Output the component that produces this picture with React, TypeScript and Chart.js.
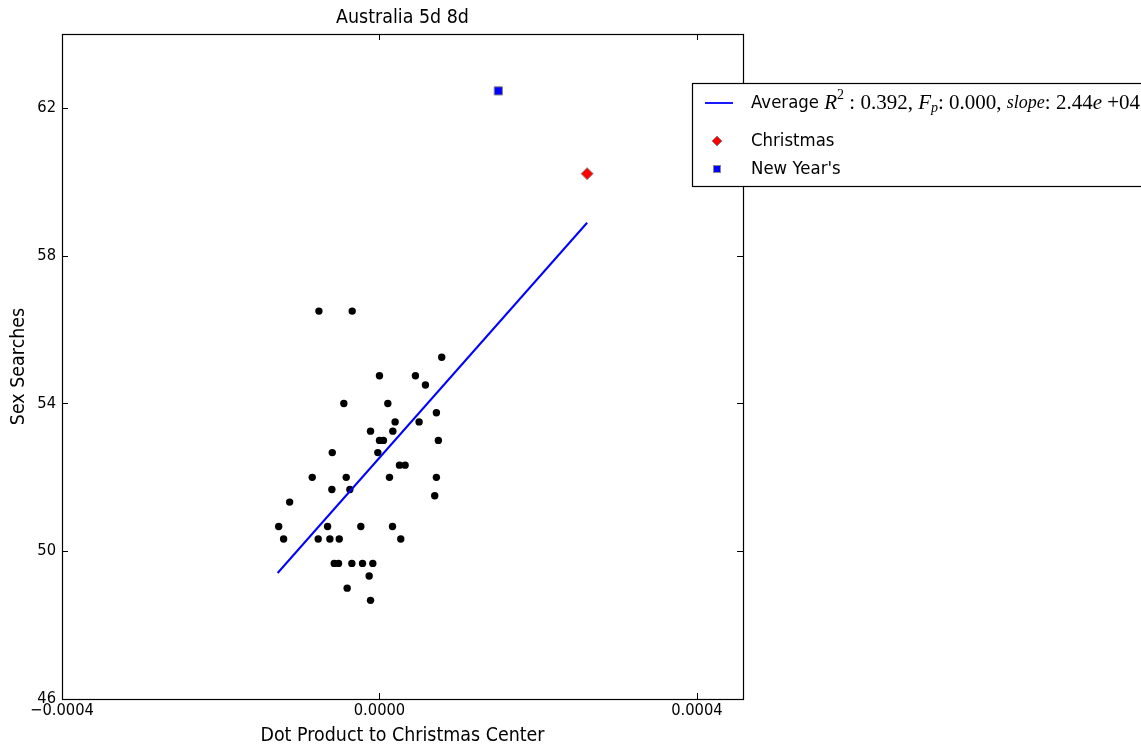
import React, { useEffect, useRef } from "react";
import { Chart, registerables } from "chart.js";

Chart.register(...registerables);

const titleText = "Australia 5d 8d";
const xLabel = "Dot Product to Christmas Center";
const yLabel = "Sex Searches";
const xTicks = [-0.0004, 0, 0.0004];
const yTicks = [46, 50, 54, 58, 62];
const xRange = [-0.0004, 0.000458];
const yRange = [46, 64];

const dotX = [
  -7.63e-5, -3.44e-5, 7.84e-5, 0, 4.53e-5, 5.79e-5, -4.49e-5, 1.05e-5, 7.17e-5, 1.97e-5,
  4.99e-5, -1.13e-5, 1.68e-5, 0, 5.0e-6, 7.42e-5, -5.95e-5, -2.1e-6, 2.52e-5, 3.23e-5,
  -8.47e-5, -4.19e-5, 1.26e-5, 7.17e-5, -6.0e-5, -3.73e-5, 6.96e-5, -1.132e-4, -1.27e-4, -6.54e-5,
  -2.35e-5, 1.64e-5, -1.208e-4, -7.72e-5, -6.25e-5, -5.07e-5, 2.68e-5, -5.7e-5, -5.16e-5, -3.48e-5,
  -2.14e-5, -8.4e-6, -1.3e-5, -4.07e-5, -1.13e-5,
];
const dotY = [
  56.5, 56.5, 55.25, 54.75, 54.75, 54.5, 54.0, 54.0, 53.75, 53.5,
  53.5, 53.25, 53.25, 53.0, 53.0, 53.0, 52.67, 52.67, 52.33, 52.33,
  52.0, 52.0, 52.0, 52.0, 51.67, 51.67, 51.5, 51.33, 50.67, 50.67,
  50.67, 50.67, 50.33, 50.33, 50.33, 50.33, 50.33, 49.67, 49.67, 49.67,
  49.67, 49.67, 49.33, 49.0, 48.67,
];
const fitX = [-0.0001283, 0.0002616];
const fitY = [49.41, 58.89];
const christmasX = [0.0002616];
const christmasY = [60.22];
const newYearX = [0.0001497];
const newYearY = [62.46];

const legendLabels = ["Average", "Christmas", "New Year's"];
const statR2 = "0.392";
const statFp = "0.000";
const statSlope = "2.44";
const statSlopeExp = "+04";

const SANS = '"DejaVu Sans", sans-serif';
const SERIF = '"Liberation Serif", "DejaVu Serif", serif';
const SX = 0.92;

function drawText(ctx: CanvasRenderingContext2D, text: string, x: number, y: number, font: string, align: CanvasTextAlign, sx = SX) {
  ctx.save();
  ctx.translate(x, y);
  ctx.scale(sx, 1);
  ctx.font = font;
  ctx.textAlign = align;
  ctx.textBaseline = "middle";
  ctx.fillStyle = "#000";
  ctx.fillText(text, 0, 0);
  ctx.restore();
}

function textW(ctx: CanvasRenderingContext2D, text: string, font: string, sx = SX) {
  ctx.save();
  ctx.font = font;
  const w = ctx.measureText(text).width * sx;
  ctx.restore();
  return w;
}

const decorPlugin = {
  id: "decor",
  afterDraw(chart: any) {
    const ctx: CanvasRenderingContext2D = chart.ctx;
    const { left, right, top, bottom } = chart.chartArea;
    const xs = chart.scales.x;
    const ys = chart.scales.y;
    ctx.save();
    // frame
    ctx.strokeStyle = "#000";
    ctx.lineWidth = 1.2;
    ctx.strokeRect(Math.round(left) + 0.5, Math.round(top) + 0.5, Math.round(right - left), Math.round(bottom - top));
    // ticks
    const tl = 6;
    ctx.lineWidth = 1;
    ctx.beginPath();
    xs.ticks.forEach((t: any) => {
      const px = Math.round(xs.getPixelForValue(t.value)) + 0.5;
      ctx.moveTo(px, bottom);
      ctx.lineTo(px, bottom - tl);
      ctx.moveTo(px, top);
      ctx.lineTo(px, top + tl);
    });
    ys.ticks.forEach((t: any) => {
      const py = Math.round(ys.getPixelForValue(t.value)) + 0.5;
      ctx.moveTo(left, py);
      ctx.lineTo(left + tl, py);
      ctx.moveTo(right, py);
      ctx.lineTo(right - tl, py);
    });
    ctx.stroke();
    // tick labels
    const tickFont = `16px ${SANS}`;
    xs.ticks.forEach((t: any) => {
      const px = xs.getPixelForValue(t.value);
      const s = t.value.toFixed(4).replace("-", "\u2212");
      drawText(ctx, s, px, bottom + 12, tickFont, "center");
    });
    ys.ticks.forEach((t: any) => {
      const py = ys.getPixelForValue(t.value);
      drawText(ctx, String(t.value), left - 6, py, tickFont, "right");
    });
    // title and axis labels
    const labFont = `19px ${SANS}`;
    drawText(ctx, titleText, (left + right) / 2, 18, labFont, "center");
    drawText(ctx, xLabel, (left + right) / 2, 736, labFont, "center");
    ctx.save();
    ctx.translate(19, (top + bottom) / 2);
    ctx.rotate(-Math.PI / 2);
    ctx.scale(SX, 1);
    ctx.font = labFont;
    ctx.textAlign = "center";
    ctx.textBaseline = "middle";
    ctx.fillStyle = "#000";
    ctx.fillText(yLabel, 0, 0);
    ctx.restore();

    // legend
    const lx = 692.5, ly = 83.5, lw = 520, lh = 103;
    ctx.fillStyle = "#fff";
    ctx.fillRect(lx, ly, lw, lh);
    ctx.strokeStyle = "#000";
    ctx.lineWidth = 1.2;
    ctx.strokeRect(lx, ly, lw, lh);
    const rowY = [103, 141, 169];
    // line sample
    ctx.strokeStyle = "#0000ff";
    ctx.lineWidth = 1.8;
    ctx.beginPath();
    ctx.moveTo(705, rowY[0]);
    ctx.lineTo(733, rowY[0]);
    ctx.stroke();
    // diamond
    ctx.beginPath();
    ctx.moveTo(717, rowY[1] - 5);
    ctx.lineTo(722, rowY[1]);
    ctx.lineTo(717, rowY[1] + 5);
    ctx.lineTo(712, rowY[1]);
    ctx.closePath();
    ctx.fillStyle = "#ff0000";
    ctx.fill();
    ctx.strokeStyle = "#888";
    ctx.lineWidth = 1;
    ctx.stroke();
    // square
    ctx.fillStyle = "#0000ff";
    ctx.fillRect(713.5, rowY[2] - 3.5, 7, 7);
    ctx.strokeStyle = "#888";
    ctx.strokeRect(713.5, rowY[2] - 3.5, 7, 7);

    const legFont = `18px ${SANS}`;
    const tx = 751;
    drawText(ctx, legendLabels[1], tx, rowY[1], legFont, "left");
    drawText(ctx, legendLabels[2], tx, rowY[2], legFont, "left");
    // first row with math
    let cx = tx;
    const y0 = rowY[0];
    const put = (s: string, font: string, dy = 0, sx = SX) => {
      drawText(ctx, s, cx, y0 + dy, font, "left", sx);
      cx += textW(ctx, s, font, sx);
    };
    const mIt = `italic 21px ${SERIF}`;
    const mRm = `21px ${SERIF}`;
    const mSm = `14px ${SERIF}`;
    const mSmIt = `italic 14px ${SERIF}`;
    put(legendLabels[0] + " ", legFont);
    put("R", mIt, 0, 1);
    put("2", mSm, -8, 1);
    put(" : " + statR2 + ",", mRm, 0, 1);
    put(" ", legFont);
    put("F", mIt, 0, 1);
    put("p", mSmIt, 5, 1);
    put(": " + statFp + ",", mRm, 0, 1);
    put(" ", legFont);
    put("slope", `italic 18px ${SERIF}`, 0, 1);
    put(": " + statSlope, mRm, 0, 1);
    put("e", mIt, 0, 1);
    put(" " + statSlopeExp, mRm, 0, 1);
    ctx.restore();
  },
};

export default function App() {
  const ref = useRef<HTMLCanvasElement>(null);
  useEffect(() => {
    document.body.style.margin = "0";
    if (!ref.current) return;
    const toPts = (xs: number[], ys: number[]) => xs.map((x, i) => ({ x, y: ys[i] }));
    const chart = new Chart(ref.current, {
      type: "scatter",
      data: {
        datasets: [
          {
            label: legendLabels[0],
            data: toPts(fitX, fitY),
            showLine: true,
            borderColor: "#0000ff",
            borderWidth: 2,
            pointRadius: 0,
            order: 0,
          },
          {
            label: legendLabels[1],
            data: toPts(christmasX, christmasY),
            pointStyle: "rectRot",
            pointRadius: 6,
            backgroundColor: "#ff0000",
            borderColor: "#888",
            borderWidth: 1,
            order: 1,
          },
          {
            label: legendLabels[2],
            data: toPts(newYearX, newYearY),
            pointStyle: "rect",
            pointRadius: 5.8,
            backgroundColor: "#0000ff",
            borderColor: "#888",
            borderWidth: 1,
            order: 2,
          },
          {
            label: "points",
            data: toPts(dotX, dotY),
            pointStyle: "circle",
            pointRadius: 3.7,
            backgroundColor: "#000",
            borderWidth: 0,
            order: 3,
          },
        ],
      },
      options: {
        responsive: false,
        animation: false,
        events: [],
        layout: { padding: { top: 34, right: 398, left: 0, bottom: 0 } },
        plugins: { legend: { display: false }, title: { display: false }, tooltip: { enabled: false } },
        scales: {
          x: {
            type: "linear",
            min: xRange[0],
            max: xRange[1],
            grid: { display: false },
            border: { display: false },
            ticks: { display: false },
            afterBuildTicks: (s: any) => {
              s.ticks = xTicks.map((v) => ({ value: v }));
            },
            afterFit: (s: any) => {
              s.height = 51;
            },
          },
          y: {
            type: "linear",
            min: yRange[0],
            max: yRange[1],
            grid: { display: false },
            border: { display: false },
            ticks: { display: false },
            afterBuildTicks: (s: any) => {
              s.ticks = yTicks.map((v) => ({ value: v }));
            },
            afterFit: (s: any) => {
              s.width = 62;
            },
          },
        },
      },
      plugins: [decorPlugin],
    } as any);
    return () => chart.destroy();
  }, []);
  return (
    <div style={{ width: 1141, height: 750 }}>
      <canvas ref={ref} width={1141} height={750} style={{ display: "block" }} />
    </div>
  );
}
